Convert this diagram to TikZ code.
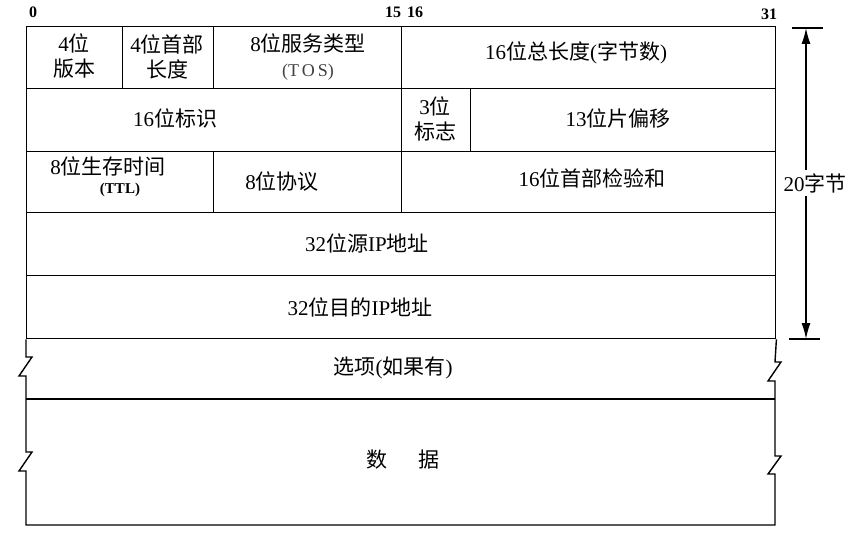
\documentclass[tikz,border=0pt]{standalone}
\usepackage{fontspec}
\setmainfont{Liberation Serif}
\newfontfamily\cjk{Noto Sans CJK SC}
\newcommand\zh[1]{{\cjk #1}}
\usetikzlibrary{arrows.meta}
\begin{document}
\begin{tikzpicture}[x=1pt,y=-1pt,line width=1.4pt,
  cell/.style={draw,line width=1.4pt,anchor=north west,inner sep=0pt},
  txt/.style={inner sep=1pt,align=center,font=\fontsize{21}{25}\selectfont},
  bitno/.style={inner sep=0pt,font=\bfseries\fontsize{16}{16}\selectfont},
  brk/.style={line width=1.4pt,line join=miter},
  dim/.style={line width=1.4pt}]
\useasboundingbox (0,0) rectangle (867,545);
% bit numbers
\node[bitno] (b0) at (33,12) {0};
\node[bitno] (b15) at (404,12) {15\hspace{6pt}16};
\node[bitno] (b31) at (769,14) {31};
% row 1
\node[cell,minimum width=96,minimum height=62] (ver) at (26,26) {};
\node[cell,minimum width=91,minimum height=62] (hlen) at (122,26) {};
\node[cell,minimum width=188,minimum height=62] (tos) at (213,26) {};
\node[cell,minimum width=374,minimum height=62] (tlen) at (401,26) {};
\node[txt] (vert) at (74,56) {4\zh{位}\\\zh{版本}};
\node[txt] (hlent) at (167,57) {4\zh{位首部}\\\zh{长度}};
\node[txt] (tost) at (308,43) {8\zh{位服务类型}};
\node[txt,text=black!75,font=\fontsize{18}{18}\selectfont] (tosb) at (308,72) {(T\,O\,S)};
\node[txt] (tlent) at (576,53) {16\zh{位总长度}(\zh{字节数})};
% row 2
\node[cell,minimum width=375,minimum height=63] (ident) at (26,88) {};
\node[cell,minimum width=69,minimum height=63] (flags) at (401,88) {};
\node[cell,minimum width=305,minimum height=63] (frag) at (470,88) {};
\node[txt] (identt) at (175,118) {16\zh{位标识}};
\node[txt] (flagst) at (435,119) {3\zh{位}\\\zh{标志}};
\node[txt] (fragt) at (618,118) {13\zh{位片偏移}};
% row 3
\node[cell,minimum width=187,minimum height=61] (ttl) at (26,151) {};
\node[cell,minimum width=188,minimum height=61] (proto) at (213,151) {};
\node[cell,minimum width=374,minimum height=61] (cksum) at (401,151) {};
\node[txt] (ttlt) at (108,166) {8\zh{位生存时间}};
\node[txt,font=\bfseries\fontsize{15}{15}\selectfont] (ttlb) at (120,190) {(TTL)};
\node[txt] (protot) at (282,182) {8\zh{位协议}};
\node[txt] (cksumt) at (592,178) {16\zh{位首部检验和}};
% rows 4, 5
\node[cell,minimum width=749,minimum height=63] (src) at (26,212) {};
\node[cell,minimum width=749,minimum height=63] (dst) at (26,275) {};
\node[txt] (srct) at (367,243) {32\zh{位源}IP\zh{地址}};
\node[txt] (dstt) at (360,307) {32\zh{位目的}IP\zh{地址}};
% options and data with broken sides
\coordinate (optbl) at (26,399);
\coordinate (optbr) at (775,399);
\coordinate (datbl) at (26,525);
\coordinate (datbr) at (775,525);
\draw[brk] (dst.south west) -- (26,357) -- (32,357) -- (19,376) -- (26,376) -- (optbl)
  -- (26,452) -- (32,452) -- (19,471) -- (26,471) -- (datbl) -- (datbr)
  -- (775,474) -- (768,474) -- (781,456) -- (775,456) -- (optbr)
  -- (775,381) -- (768,381) -- (781,362) -- (775,362) -- (dst.south east);
\draw[line width=1.4pt] (optbl) -- (optbr);
\node[txt] (opt) at (393,368) {\zh{选项}(\zh{如果有})};
\node[txt] (data) at (403,460) {\zh{数}\hspace{32pt}\zh{据}};
% dimension arrow
\coordinate (ttop) at (806,28);
\coordinate (tbot) at (806,339);
\coordinate (tl1) at (792,28);
\coordinate (tr1) at (823,28);
\coordinate (tl2) at (789,339);
\coordinate (tr2) at (820,339);
\draw[dim] (tl1) -- (tr1);
\draw[dim] (tl2) -- (tr2);
\node[txt,inner sep=3pt] (twenty) at (815,183) {20\zh{字节}};
\draw[dim,-{Latex[length=16pt,width=9pt]}] (twenty.north -| ttop) -- (ttop);
\draw[dim,-{Latex[length=16pt,width=9pt]}] (twenty.south -| tbot) -- (tbot);
\end{tikzpicture}
\end{document}
